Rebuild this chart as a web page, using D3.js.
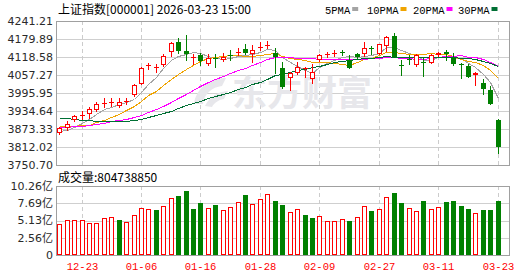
<!DOCTYPE html>
<html>
<head>
<meta charset="utf-8">
<script src="https://cdn.jsdelivr.net/npm/d3@7"></script>
<style>
    body { margin: 0; background: #fff; }
    svg { display: block; }
</style>
</head>
<body>
<svg id="kline" width="530" height="276"></svg>
<script>

// trading days shown (60 candles)
var dates = ["12-18","12-19","12-22","12-23","12-24","12-25","12-26","12-29","12-30","12-31",
    "01-05","01-06","01-07","01-08","01-09","01-12","01-13","01-14","01-15","01-16",
    "01-19","01-20","01-21","01-22","01-23","01-26","01-27","01-28","01-29","01-30",
    "02-02","02-03","02-04","02-05","02-06","02-09","02-10","02-11","02-12","02-13",
    "02-24","02-25","02-26","02-27","03-02","03-03","03-04","03-05","03-06","03-09",
    "03-10","03-11","03-12","03-13","03-16","03-17","03-18","03-19","03-20","03-23"];

var opens = [3858,3876,3903,3918,3923,3939,3960,3962,3953,3966,
    3989,4028,4088,4083,4090,4137,4171,4139,4115,4125,
    4094,4115,4107,4126,4132,4145,4128,4151,4157,4131,
    4080,4046,4065,4079,4043,4107,4126,4128,4137,4110,
    4130,4128,4149,4130,4156,4190,4092,4112,4090,4100,
    4099,4124,4137,4116,4095,4088,4057,4031,4005,3904];
var highs = [3880,3900,3921,3935,3948,3966,3978,3980,3978,3978,
    4028,4085,4099,4094,4128,4171,4182,4194,4130,4133,
    4130,4130,4133,4141,4148,4164,4159,4171,4173,4150,
    4103,4069,4103,4085,4094,4128,4137,4141,4141,4125,
    4133,4171,4156,4164,4190,4201,4107,4125,4128,4116,
    4128,4137,4141,4133,4099,4094,4067,4043,4020,3906];
var lows = [3855,3869,3900,3906,3912,3935,3948,3952,3948,3957,
    3986,4026,4077,4069,4088,4123,4132,4107,4096,4091,
    4093,4085,4105,4107,4125,4128,4103,4141,4150,4065,
    4014,4005,4062,4050,4031,4105,4119,4123,4125,4082,
    4116,4122,4130,4128,4139,4118,4057,4094,4088,4054,
    4099,4122,4107,4090,4048,4050,4023,3994,3957,3793];
var closes = [3877,3889,3916,3921,3940,3960,3963,3965,3964,3969,
    4023,4082,4090,4086,4122,4166,4139,4128,4117,4105,
    4114,4112,4118,4124,4134,4133,4141,4153,4160,4119,
    4016,4065,4084,4081,4069,4125,4128,4132,4135,4082,
    4119,4148,4146,4162,4187,4119,4090,4110,4125,4099,
    4125,4133,4128,4094,4091,4051,4065,4008,3957,3813];

// volume, in 亿
var volumes = [4.58,5.18,5.18,5.18,4.78,4.78,5.48,5.63,5.18,4.88,
    5.93,6.93,6.78,6.68,7.27,8.42,8.77,9.51,6.83,7.77,
    6.93,7.46,6.68,7.07,7.82,8.91,7.57,8.27,9.06,8.07,
    7.42,6.33,6.78,5.93,5.48,5.78,5.13,5.03,5.28,5.03,
    5.58,7.27,6.53,6.78,8.57,9.17,7.67,6.93,6.48,8.02,
    6.78,7.07,7.87,8.02,7.27,6.83,6.18,6.68,6.68,8.0473885];

// MA values at the left edge (earlier closes are not on the chart)
var ma5Head = [3866,3870,3880,3893];
var ma10Head = [3883,3884,3885,3886,3888,3896,3905,3915,3926];
var ma20Head = [3880,3881,3882,3884,3886,3890,3895,3899,3903,3907,
    3914,3921,3930,3940,3951,3965,3978,3992,4006];
var ma30Head = [3911.9,3909.7,3907.4,3905.1,3902.8,3900.6,3899.4,3899.0,3899.0,3900.5,
    3903.5,3908,3914,3920,3927,3936,3945,3954,3962,3970,
    3978,3986,3994,4001,4009,4017,4025,4034,4043];

var priceTicks = [4241.21,4179.89,4118.58,4057.27,3995.95,3934.64,3873.33,3812.02,3750.70];
var volTicks = [10.26,7.69,5.13,2.56,0];
var dateTicks = ["12-23","01-06","01-16","01-28","02-09","02-27","03-11","03-23"];

var maPeriods = [5,10,20,30];
var maHeads = [ma5Head, ma10Head, ma20Head, ma30Head];
var maColors = ["#a4a4a4","#f0a400","#ff00ff","#006f34"];
var maNames = ["5PMA","10PMA","20PMA","30PMA"];

var title = "上证指数[000001] 2026-03-23 15:00";

var upColor = "#ff0000";
var downColor = "#008000";

var left = 56, right = 509;
var priceTop = 21, priceBottom = 165;
var volTop = 186, volBottom = 255;

var svg = d3.select("#kline");

// one empty slot is left at the right edge
var x = d3.scaleBand()
    .domain(dates)
    .range([left, right - 7]);

var y = d3.scaleLinear()
    .domain([priceTicks[priceTicks.length - 1], priceTicks[0]])
    .range([priceBottom, priceTop]);

var yv = d3.scaleLinear()
    .domain([0, volTicks[0]])
    .range([volBottom, volTop]);

function cx(d) {
    return Math.floor(x(d) + x.bandwidth() / 2);
}

function movingAvg(n, head) {
    return closes.map(function (c, i) {
        if (i < n - 1)
            return head[i];
        return d3.mean(closes.slice(i - n + 1, i + 1));
    });
}

var candles = dates.map(function (d, i) {
    return {date: d, o: opens[i], h: highs[i], l: lows[i], c: closes[i], v: volumes[i],
        volUp: i == 0 || closes[i] >= closes[i - 1]};
});


// grid
var grid = svg.append("g");

grid.selectAll(".hgrid")
    .data(priceTicks.slice(1, -1))
    .enter()
    .append("line")
    .attr("x1", left).attr("x2", right)
    .attr("y1", function (d) { return Math.round(y(d)) + 0.5; })
    .attr("y2", function (d) { return Math.round(y(d)) + 0.5; })
    .attr("stroke", "#cfcfcf");

grid.selectAll(".vgrid")
    .data(volTicks.slice(1, -1))
    .enter()
    .append("line")
    .attr("x1", left).attr("x2", right)
    .attr("y1", function (d) { return Math.round(yv(d)) + 0.5; })
    .attr("y2", function (d) { return Math.round(yv(d)) + 0.5; })
    .attr("stroke", "#cfcfcf");

[[priceTop, priceBottom], [volTop, volBottom]].forEach(function (pane) {
    grid.selectAll(null)
        .data(dateTicks)
        .enter()
        .append("line")
        .attr("x1", function (d) { return cx(d) + 0.5; })
        .attr("x2", function (d) { return cx(d) + 0.5; })
        .attr("y1", pane[0]).attr("y2", pane[1])
        .attr("stroke", "#cccccc")
        .attr("stroke-dasharray", "4,3");
});

// watermark
var wm = svg.append("g").attr("fill", "#e7e7eb");
wm.append("path")
    .attr("d", "M194,104 C196,88 210,78 226,78 L222,86 C212,87 204,94 203,104 Z M205,106 C210,96 218,92 228,91 L224,99 C218,100 214,103 212,107 Z");
wm.append("text")
    .attr("x", 232).attr("y", 106)
    .style("font-family", "'Noto Sans CJK SC'")
    .style("font-size", "35px")
    .style("font-weight", "bold")
    .text("东方财富");

// frames
svg.selectAll(".frame")
    .data([[priceTop, priceBottom], [volTop, volBottom]])
    .enter()
    .append("rect")
    .attr("x", left + 0.5)
    .attr("y", function (d) { return d[0] + 0.5; })
    .attr("width", right - left)
    .attr("height", function (d) { return d[1] - d[0]; })
    .attr("fill", "none")
    .attr("stroke", "#a0a0a0");


// moving averages
var lineGen = d3.line()
    .x(function (d, i) { return cx(dates[i]) + 0.5; })
    .y(function (d) { return Math.round(y(d)) + 0.5; });

maPeriods.forEach(function (n, k) {
    svg.append("path")
        .attr("d", lineGen(movingAvg(n, maHeads[k])))
        .attr("fill", "none")
        .attr("stroke", maColors[k])
        .attr("stroke-width", 1)
        .style("shape-rendering", "crispEdges");
});


// candles
var candle = svg.append("g")
    .selectAll("g")
    .data(candles)
    .enter()
    .append("g")
    .style("shape-rendering", "crispEdges");

candle.append("line")
    .attr("x1", function (d) { return cx(d.date) + 0.5; })
    .attr("x2", function (d) { return cx(d.date) + 0.5; })
    .attr("y1", function (d) { return Math.round(y(d.h)); })
    .attr("y2", function (d) { return Math.round(y(d.l)) + 1; })
    .attr("stroke", function (d) { return d.c >= d.o ? upColor : downColor; });

candle.each(function (d) {
    var g = d3.select(this);
    var top = Math.round(y(Math.max(d.o, d.c)));
    var bottom = Math.round(y(Math.min(d.o, d.c)));
    var h = Math.max(bottom - top, 1);
    if (d.c >= d.o) {
        if (h <= 2) {
            g.append("rect")
                .attr("x", cx(d.date) - 2).attr("y", top)
                .attr("width", 5).attr("height", h)
                .attr("fill", upColor);
        } else {
            g.append("rect")
                .attr("x", cx(d.date) - 1.5).attr("y", top + 0.5)
                .attr("width", 4).attr("height", h - 1)
                .attr("fill", "#fff")
                .attr("stroke", upColor);
        }
    } else {
        g.append("rect")
            .attr("x", cx(d.date) - 2).attr("y", top)
            .attr("width", 5).attr("height", h)
            .attr("fill", downColor);
    }
});


// volume bars
svg.append("g")
    .selectAll("rect")
    .data(candles)
    .enter()
    .append("rect")
    .style("shape-rendering", "crispEdges")
    .attr("x", function (d) { return d.volUp ? cx(d.date) - 1.5 : cx(d.date) - 2; })
    .attr("y", function (d) { return d.volUp ? Math.round(yv(d.v)) + 0.5 : Math.round(yv(d.v)); })
    .attr("width", function (d) { return d.volUp ? 4 : 5; })
    .attr("height", function (d) {
        var h = volBottom - Math.round(yv(d.v));
        return d.volUp ? h - 1 : h;
    })
    .attr("fill", function (d) { return d.volUp ? "#fff" : downColor; })
    .attr("stroke", function (d) { return d.volUp ? upColor : "none"; });


// axis labels
var axisFont = "'DejaVu Sans', 'Noto Sans CJK SC'";

svg.append("g")
    .selectAll("text")
    .data(priceTicks)
    .enter()
    .append("text")
    .attr("x", 53)
    .attr("y", function (d) { return y(d); })
    .attr("dy", "0.36em")
    .attr("text-anchor", "end")
    .style("font-family", axisFont)
    .style("font-size", "11px")
    .attr("fill", "#2a2a2a")
    .text(function (d) { return d.toFixed(2); });

svg.append("g")
    .selectAll("text")
    .data(volTicks)
    .enter()
    .append("text")
    .attr("x", 53)
    .attr("y", function (d) { return yv(d); })
    .attr("dy", "0.36em")
    .attr("text-anchor", "end")
    .style("font-family", axisFont)
    .style("font-size", "11px")
    .attr("fill", "#2a2a2a")
    .text(function (d) { return d == 0 ? "0" : d.toFixed(2) + "亿"; });

svg.append("g")
    .selectAll("text")
    .data(dateTicks)
    .enter()
    .append("text")
    .attr("x", function (d) { return cx(d) + 0.5; })
    .attr("y", 270)
    .attr("text-anchor", "middle")
    .style("font-family", "'Liberation Mono'")
    .style("font-size", "10.5px")
    .attr("fill", "#ff0000")
    .text(function (d) { return d; });


// header + legend
svg.append("text")
    .attr("x", 58).attr("y", 14)
    .style("font-family", "'Noto Sans CJK SC'")
    .style("font-size", "12px")
    .attr("fill", "#000")
    .text(title);

svg.append("text")
    .attr("x", 58).attr("y", 182)
    .style("font-family", "'Noto Sans CJK SC'")
    .style("font-size", "12px")
    .attr("fill", "#000")
    .text("成交量:" + Math.round(volumes[volumes.length - 1] * 1e8));

var legendX = [325, 367, 413, 458];
var legend = svg.append("g")
    .selectAll("g")
    .data(maNames)
    .enter()
    .append("g")
    .attr("transform", function (d, i) { return "translate(" + legendX[i] + ",0)"; });

legend.append("text")
    .attr("y", 14)
    .style("font-family", "'Liberation Mono'")
    .style("font-size", "10.5px")
    .attr("fill", "#000")
    .text(function (d) { return d; });

legend.append("rect")
    .attr("x", function (d) { return d.length * 6.3 + 2; })
    .attr("y", 7)
    .attr("width", 6).attr("height", 4)
    .attr("fill", function (d, i) { return maColors[i]; });

</script>
</body>
</html>
